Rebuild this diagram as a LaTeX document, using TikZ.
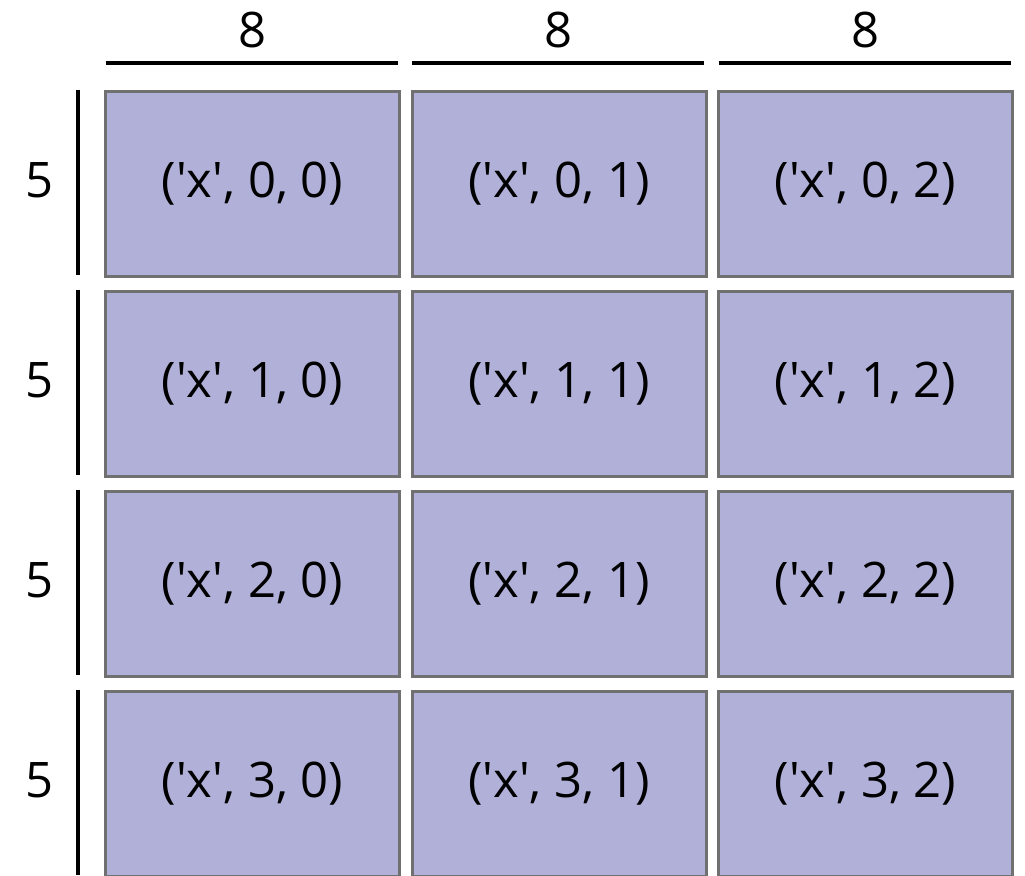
\documentclass[tikz,border=0pt]{standalone}
\usepackage{fontspec}
\setmainfont{Open Sans}
\usepackage{xcolor}
\usetikzlibrary{positioning}
\definecolor{chunkfill}{RGB}{176,176,216}
\definecolor{chunkedge}{RGB}{112,112,112}
\newcommand{\qx}{\textquotesingle x\textquotesingle}

\begin{document}
\begin{tikzpicture}[x=0.5pt,y=-0.5pt,font=\fontsize{24.5}{29}\selectfont]
\tikzset{
  chunk/.style={draw=chunkedge,fill=chunkfill,line width=1.5pt,minimum width=147pt,minimum height=92.5pt,inner sep=0pt,outer sep=0pt},
  dim/.style={line width=2pt,draw=black},
  lbl/.style={inner sep=0pt}
}
\useasboundingbox (0,0) rectangle (1025,875);
\clip (0,0) rectangle (1025,875);
% chunk grid
\foreach \r in {0,...,3}{
  \foreach \c in {0,...,2}{
    \node(c\r\c)[chunk] at ({252.5+306.5*\c},{184+200*\r}) {(\qx, \r, \c)};
  }
}
% column sizes
\foreach \c in {0,...,2}{
  \draw[dim]([yshift=14.25pt]c0\c.north west) -- ([xshift=-1pt,yshift=14.25pt]c0\c.north east);
  \node(w\c)[lbl] at ({252.5+306.5*\c},30) {8};
}
% row sizes
\foreach \r in {0,...,3}{
  \draw[dim]([xshift=-14pt,yshift=1pt]c\r0.north west) -- ([xshift=-14pt,yshift=1pt]c\r0.south west);
  \node(h\r)[lbl] at (40,{180+200*\r}) {5};
}
\end{tikzpicture}
\end{document}
